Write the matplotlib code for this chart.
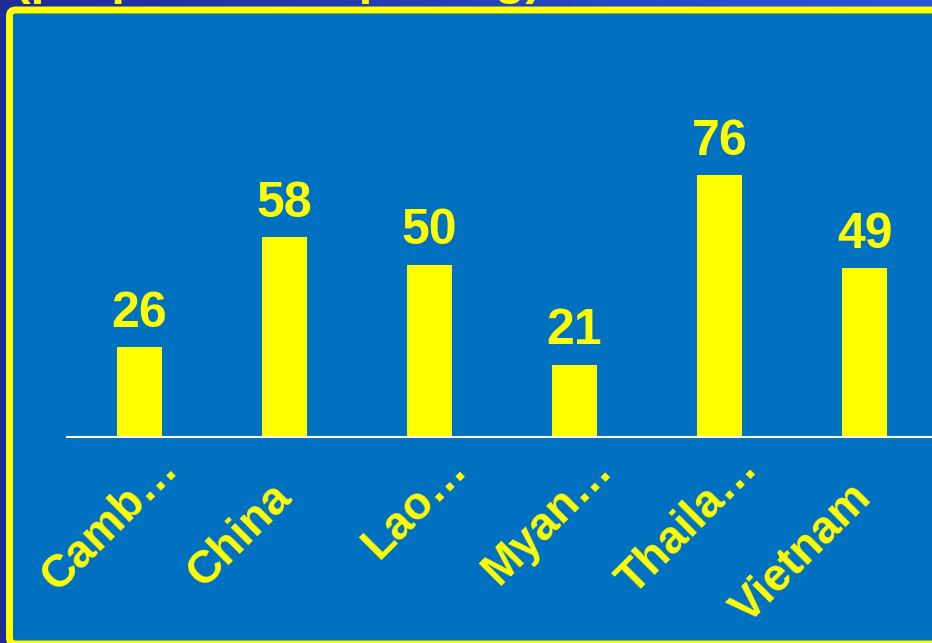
import numpy as np
import matplotlib
matplotlib.use("Agg")
from matplotlib import pyplot as plt
from matplotlib.patches import FancyBboxPatch
from matplotlib.transforms import ScaledTranslation

countries = ["Camb…", "China", "Lao…", "Myan…", "Thaila…", "Vietnam"]
values = [26, 58, 50, 21, 76, 49]
title_text = "(proportion of pricing)"

YELLOW = "#ffff00"
PANEL = "#0070c0"
FONT = "Liberation Sans"

W, H, DPI = 932, 643, 100
fig = plt.figure(figsize=(W / DPI, H / DPI), dpi=DPI)

# Slide background: dark blue gradient + yellow-framed panel
bg = fig.add_axes([0, 0, 1, 1])
bg.set_xlim(0, W)
bg.set_ylim(H, 0)
bg.axis("off")
grad = np.linspace(0, 1, 256)[None, :, None]
left_c = np.array([0.12, 0.17, 0.60])
right_c = np.array([0.16, 0.34, 0.85])
bg.imshow(left_c + grad * (right_c - left_c), extent=[0, W, H, 0], aspect="auto", zorder=0)
panel = FancyBboxPatch((9.5, 10), 940, 634, boxstyle="round,pad=0,rounding_size=6",
                       facecolor=PANEL, edgecolor=YELLOW, linewidth=5.0, zorder=1)
bg.add_patch(panel)

# Title mostly cut off above the top edge (as in the source slide)
fig.text(14 / W, 1 + 6 / H, title_text, ha="left", va="baseline", color=YELLOW,
         fontsize=36, fontweight="bold", family=FONT)

# Chart
ax = fig.add_axes([67 / W, 206 / H, 870 / W, 276 / H])
ax.patch.set_alpha(0)
x = np.arange(len(countries))
ax.bar(x, values, width=0.31, color=YELLOW, zorder=2)
ax.set_xlim(-0.5, len(countries) - 0.5)
ax.set_ylim(0, 80)
for s in ["top", "left", "right"]:
    ax.spines[s].set_visible(False)
ax.spines["bottom"].set_color("white")
ax.spines["bottom"].set_linewidth(1.5)
ax.set_xticks([])
ax.set_yticks([])

for i, v in zip(x, values):
    ax.annotate(str(v), xy=(i, v), xytext=(0, 14.5), textcoords="offset points",
                ha="center", va="baseline", color=YELLOW, fontsize=36,
                fontweight="bold", family=FONT)

# Rotated category labels, anchored at their right baseline end
for i, name in zip(x, countries):
    if name.endswith("…"):
        dx, dy = 40, -33
    else:
        dx, dy = 8.5, -62
    tr = ax.transData + ScaledTranslation(dx / DPI, dy / DPI, fig.dpi_scale_trans)
    ax.text(i, 0, name, transform=tr, rotation=45, rotation_mode="anchor",
            ha="right", va="baseline", color=YELLOW, fontsize=33,
            fontweight="bold", family=FONT, clip_on=False)

fig.savefig("out.png", dpi=DPI)
